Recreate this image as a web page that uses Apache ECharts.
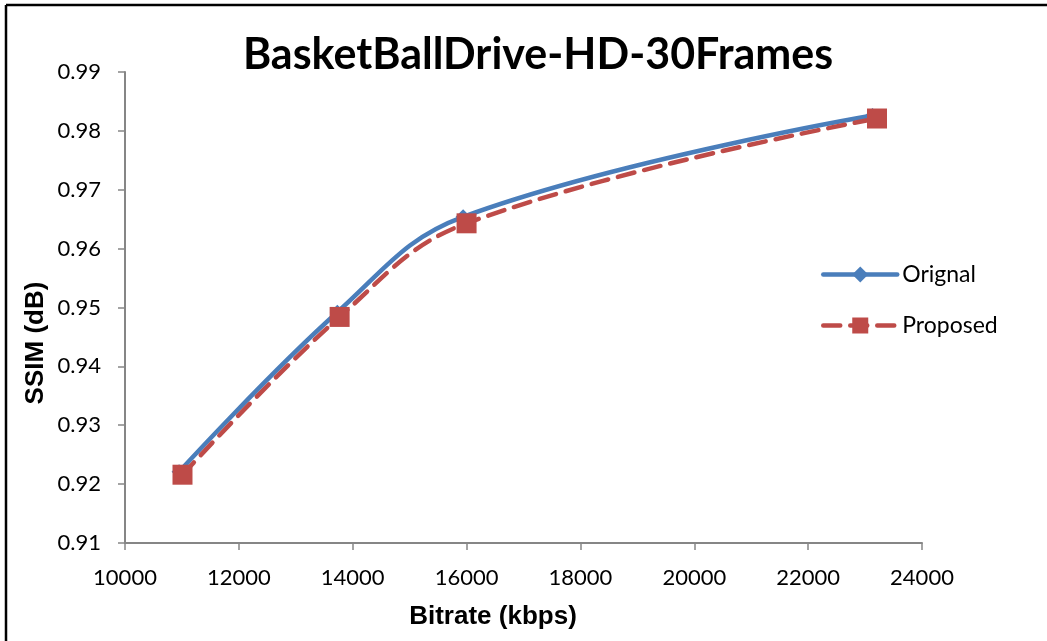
<!DOCTYPE html>
<html>
<head>
<meta charset="utf-8">
<script src="https://cdn.jsdelivr.net/npm/echarts@6/dist/echarts.min.js"></script>
<style>
  html, body { margin: 0; padding: 0; background: #fff; }
  #chart { width: 1047px; height: 641px; }
</style>
</head>
<body>
<div id="chart"></div>
<script>
// Bitrate (kbps) vs SSIM for the two encoders
const originalBitrate = [10950, 13730, 15940, 23130];
const originalSsim    = [0.9221, 0.9492, 0.9654, 0.9826];
const proposedBitrate = [11010, 13770, 16000, 23210];
const proposedSsim    = [0.9216, 0.9484, 0.9643, 0.9821];

const xTicks = [10000, 12000, 14000, 16000, 18000, 20000, 22000, 24000];
const yTicks = [0.91, 0.92, 0.93, 0.94, 0.95, 0.96, 0.97, 0.98, 0.99];

const seriesNames = ['Orignal', 'Proposed'];
const chartTitle = 'BasketBallDrive-HD-30Frames';
const xAxisName = 'Bitrate (kbps)';
const yAxisName = 'SSIM (dB)';

const pair = (xs, ys) => xs.map((x, i) => [x, ys[i]]);

const axisColor = '#868686';
const labelFont = 'Lato, "Open Sans", sans-serif';
const boldFont = '"Liberation Sans", Arial, sans-serif';

const chart = echarts.init(document.getElementById('chart'), null, { renderer: 'canvas' });

chart.setOption({
  backgroundColor: '#ffffff',
  animation: false,
  title: {
    text: chartTitle,
    left: 533,
    textAlign: 'center',
    top: 29,
    textStyle: { fontFamily: labelFont, fontWeight: 'bold', fontSize: 43, color: '#000' }
  },
  graphic: [
    // frame edges
    { type: 'line', shape: { x1: 6, y1: 5, x2: 1047, y2: 5 }, style: { stroke: '#000', lineWidth: 2.5 } },
    { type: 'line', shape: { x1: 6, y1: 5, x2: 6, y2: 641 }, style: { stroke: '#000', lineWidth: 2.5 } },
    // axis titles
    {
      type: 'text', x: 493, y: 617,
      style: {
        text: xAxisName, fill: '#000', fontFamily: boldFont, fontWeight: 'bold', fontSize: 26,
        align: 'center', verticalAlign: 'middle'
      }
    },
    {
      type: 'text', x: 36, y: 343, rotation: Math.PI / 2,
      style: {
        text: yAxisName, fill: '#000', fontFamily: boldFont, fontWeight: 'bold', fontSize: 26,
        align: 'center', verticalAlign: 'middle'
      }
    }
  ],
  legend: {
    orient: 'vertical',
    left: 816,
    top: 258,
    itemGap: 28,
    itemWidth: 74,
    itemHeight: 20,
    lineStyle: { width: 'inherit' },
    textStyle: { fontFamily: labelFont, fontSize: 23, color: '#000', padding: [0, 0, 0, 0] },
    data: seriesNames
  },
  grid: { left: 125, right: 125, top: 72, bottom: 98, containLabel: false },
  xAxis: {
    type: 'value',
    min: xTicks[0],
    max: xTicks[xTicks.length - 1],
    interval: 2000,
    axisLine: { show: true, lineStyle: { color: axisColor, width: 2 } },
    axisTick: { show: true, length: 7, lineStyle: { color: axisColor, width: 1.5 } },
    axisLabel: { fontFamily: labelFont, fontSize: 22, color: '#000', margin: 24, formatter: v => String(v) },
    splitLine: { show: false }
  },
  yAxis: {
    type: 'value',
    min: yTicks[0],
    max: yTicks[yTicks.length - 1],
    interval: 0.01,
    axisLine: { show: true, lineStyle: { color: axisColor, width: 2 } },
    axisTick: { show: true, length: 7, lineStyle: { color: axisColor, width: 1.5 } },
    axisLabel: {
      fontFamily: labelFont, fontSize: 22, color: '#000', margin: 24,
      formatter: v => v.toFixed(2)
    },
    splitLine: { show: false }
  },
  series: [
    {
      name: seriesNames[0],
      type: 'line',
      data: pair(originalBitrate, originalSsim),
      smooth: 0.4,
      symbol: 'diamond',
      symbolSize: 15,
      itemStyle: { color: '#4A7EBB' },
      lineStyle: { color: '#4A7EBB', width: 4.5, cap: 'round' }
    },
    {
      name: seriesNames[1],
      type: 'line',
      data: pair(proposedBitrate, proposedSsim),
      smooth: 0.4,
      symbol: 'rect',
      symbolSize: 20,
      itemStyle: { color: '#BE4B48' },
      lineStyle: { color: '#BE4B48', width: 4.5, type: [17, 10], cap: 'round' }
    }
  ]
});
</script>
</body>
</html>
